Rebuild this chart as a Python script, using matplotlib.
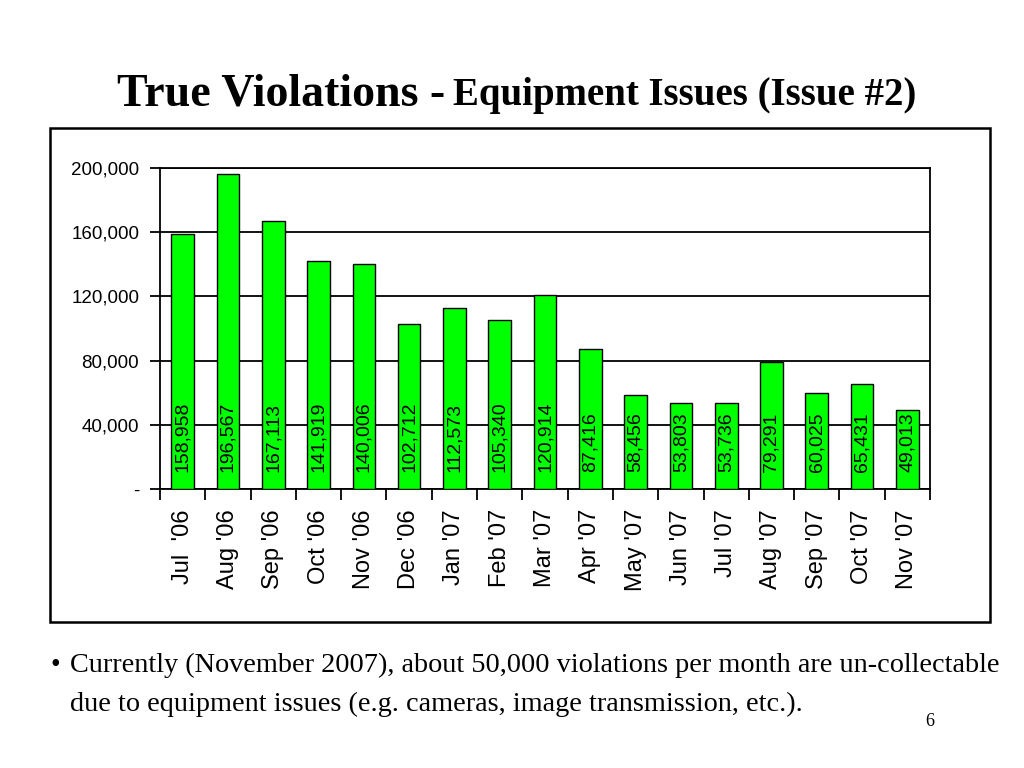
import matplotlib
matplotlib.use("Agg")
import matplotlib.pyplot as plt
from matplotlib.patches import Rectangle
from matplotlib.ticker import FixedLocator

months = ["Jul  '06", "Aug '06", "Sep '06", "Oct '06", "Nov '06", "Dec '06",
          "Jan '07", "Feb '07", "Mar '07", "Apr '07", "May '07", "Jun '07",
          "Jul '07", "Aug '07", "Sep '07", "Oct '07", "Nov '07"]
violations = [158958, 196567, 167113, 141919, 140006, 102712, 112573, 105340,
              120914, 87416, 58456, 53803, 53736, 79291, 60025, 65431, 49013]
yticks = [0, 40000, 80000, 120000, 160000, 200000]
ytick_labels = ["-", "40,000", "80,000", "120,000", "160,000", "200,000"]

fig = plt.figure(figsize=(10.24, 7.68), dpi=100)
fig.patch.set_facecolor("white")

# outer frame
fig.patches.append(Rectangle((50/1024, 1-622/768), 940/1024, 494/768,
                             transform=fig.transFigure, fill=False,
                             edgecolor="black", linewidth=1.8))

ax = fig.add_axes([160/1024, 1-489/768, 770/1024, 321/768])
x = list(range(len(months)))
ax.bar(x, violations, width=0.5, color="#00FF00", edgecolor="black",
       linewidth=1.0, zorder=3)
ax.set_xlim(-0.5, len(months)-0.5)
ax.set_ylim(0, 200000)
ax.set_yticks(yticks)
ax.set_yticklabels(ytick_labels, fontname="Liberation Sans", fontsize=13.5)
ax.yaxis.grid(True, color="black", linewidth=1.3, zorder=0)
ax.set_axisbelow(True)
ax.tick_params(axis="y", direction="out", length=7, width=1.3, pad=8)

ax.xaxis.set_major_locator(FixedLocator([i-0.5 for i in range(len(months)+1)]))
ax.set_xticklabels([])
ax.tick_params(axis="x", direction="out", length=8, width=1.3)
for i, m in enumerate(months):
    ax.text(i, -12500, m, rotation=90, ha="center", va="top",
            fontname="Liberation Sans", fontsize=17)
for i, v in enumerate(violations):
    ax.text(i, 10600, f"{v:,}", rotation=90, ha="center", va="bottom",
            fontname="Liberation Sans", fontsize=14, zorder=4)
for s in ax.spines.values():
    s.set_linewidth(1.3)

fig.text(445/1024, 1-105/768, "True Violations -", ha="right", va="baseline",
         fontname="Liberation Serif", fontweight="bold", fontsize=33)
fig.text(453/1024, 1-105/768, "Equipment Issues (Issue #2)", ha="left", va="baseline",
         fontname="Liberation Serif", fontweight="bold", fontsize=28)

fig.text(50/1024, 1-672/768, "\u2022", ha="left", va="baseline",
         fontname="Liberation Serif", fontsize=20)
fig.text(70/1024, 1-672/768,
         "Currently (November 2007), about 50,000 violations per month are un-collectable",
         ha="left", va="baseline", fontname="Liberation Serif", fontsize=20.3)
fig.text(70/1024, 1-711/768,
         "due to equipment issues (e.g. cameras, image transmission, etc.).",
         ha="left", va="baseline", fontname="Liberation Serif", fontsize=20.3)
fig.text(930/1024, 1-726/768, "6", ha="center", va="baseline",
         fontname="Liberation Serif", fontsize=13)

fig.savefig("out.png", dpi=100)
